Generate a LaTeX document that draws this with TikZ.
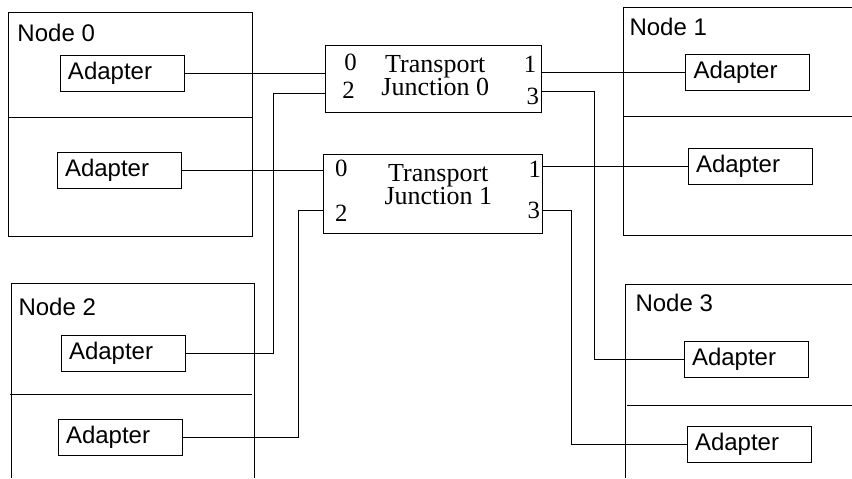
\documentclass[tikz,border=0pt]{standalone}
\usepackage{fontspec}
\setsansfont{Liberation Sans}
\newfontfamily\jfont{Liberation Serif}

\begin{document}
\begin{tikzpicture}[x=5pt, y=-5pt, line width=0.5pt,
    adapter/.style={draw, font=\sffamily\fontsize{12}{14}\selectfont,
        text width=54pt, minimum height=18pt, inner xsep=4pt, inner ysep=0pt, align=left},
    nodename/.style={anchor=west, inner sep=0pt, font=\sffamily\fontsize{12}{14}\selectfont},
    junction/.style={draw, inner sep=0pt},
    jtext/.style={inner sep=0pt, align=center, font=\jfont\fontsize{13}{11.5}\selectfont},
    port/.style={inner sep=0pt, font=\jfont\fontsize{12.4}{12}\selectfont}]
    \useasboundingbox (0,0) rectangle (85.2,47.8);
    %%Node 0
    \draw (0.8,1.2) rectangle (25.2,23.6);
    \draw (0.8,11.7) to (25.2,11.7);
    \node[nodename] (n0) at (1.7,3.25) {Node 0};
    \node[adapter] (a00) at (12.2,7.3) {Adapter};
    \node[adapter] (a01) at (11.9,17.0) {Adapter};
    %%Node 1
    \draw (85.2,0.7) -| (62.3,23.5) -- (85.2,23.5);
    \draw (62.3,11.6) to (85.2,11.6);
    \node[nodename] (n1) at (62.9,2.72) {Node 1};
    \node[adapter] (a10) at (74.75,7.2) {Adapter};
    \node[adapter] (a11) at (75.0,16.6) {Adapter};
    %%Node 2
    \draw (1.1,47.8) |- (25.4,28.3) -- (25.4,47.8);
    \draw (1.0,39.4) to (25.2,39.4);
    \node[nodename] (n2) at (1.8,30.72) {Node 2};
    \node[adapter] (a20) at (12.3,35.3) {Adapter};
    \node[adapter] (a21) at (12.0,43.7) {Adapter};
    %%Node 3
    \draw (62.5,47.8) |- (85.2,28.4);
    \draw (62.7,40.5) to (85.2,40.5);
    \node[nodename] (n3) at (63.5,30.3) {Node 3};
    \node[adapter] (a30) at (74.6,35.9) {Adapter};
    \node[adapter] (a31) at (74.9,44.4) {Adapter};
    %%Transport junctions
    \node[junction, minimum width=108pt, minimum height=33.5pt] (tj0) at (43.38,7.9) {};
    \node[jtext] (tj0txt) at (43.53,7.52) {Transport\\Junction 0};
    \node[port] (tj0n0) at (35.05,6.25) {0};
    \node[port] (tj0n2) at (34.85,9.0) {2};
    \node[port] (tj0n1) at (53.0,6.45) {1};
    \node[port] (tj0n3) at (53.28,9.6) {3};
    \node[junction, minimum width=109.5pt, minimum height=39.5pt] (tj1) at (43.25,19.38) {};
    \node[jtext] (tj1txt) at (43.83,18.49) {Transport\\Junction 1};
    \node[port] (tj1n0) at (34.13,16.8) {0};
    \node[port] (tj1n2) at (34.13,21.28) {2};
    \node[port] (tj1n1) at (53.47,16.95) {1};
    \node[port] (tj1n3) at (53.38,21.08) {3};
    \coordinate (j0p2) at (32.55,9.33);
    \coordinate (j0p3) at (54.17,9.1);
    \coordinate (j1p2) at (32.3,21.07);
    \coordinate (j1p3) at (54.2,21.0);
    %%Links
    \draw (a00.east) -- (a00.east -| tj0.west);
    \draw (a01.east) -- (a01.east -| tj1.west);
    \draw (tj0.east |- a10.west) -- (a10.west);
    \draw (tj1.east |- a11.west) -- (a11.west);
    \draw (a20.east) -- ++(8.8,0) |- (j0p2);
    \draw (a21.east) -- ++(11.6,0) |- (j1p2);
    \draw (j0p3) -- ++(5.23,0) |- (a30.west);
    \draw (j1p3) -- ++(2.9,0) |- (a31.west);
\end{tikzpicture}
\end{document}
